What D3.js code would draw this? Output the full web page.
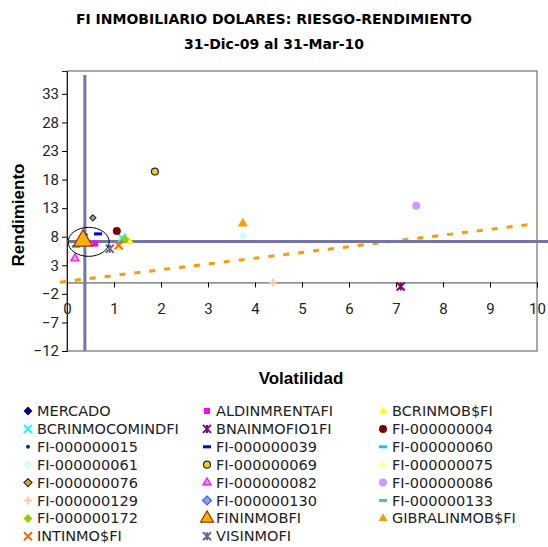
<!DOCTYPE html>
<html>
<head>
<meta charset="utf-8">
<script src="https://cdn.jsdelivr.net/npm/d3@7"></script>
<style>
  body { margin: 0; background: #fff; }
  text { font-family: "DejaVu Sans", Verdana, sans-serif; }
</style>
</head>
<body>
<div id="chart"></div>
<script>
// series data (volatilidad, rendimiento)
var names = ["MERCADO", "ALDINMRENTAFI", "BCRINMOB$FI", "BCRINMOCOMINDFI", "BNAINMOFIO1FI",
  "FI-000000004", "FI-000000015", "FI-000000039", "FI-000000060", "FI-000000061",
  "FI-000000069", "FI-000000075", "FI-000000076", "FI-000000082", "FI-000000086",
  "FI-000000129", "FI-000000130", "FI-000000133", "FI-000000172", "FININMOBFI",
  "GIBRALINMOB$FI", "INTINMO$FI", "VISINMOFI"];
var volat = [0.38, 0.60, 1.34, 1.17, 7.10, 1.06, 0.40, 0.66, 0.19, 3.74,
  1.87, 1.10, 0.55, 0.17, 7.43, 4.38, 0.35, 0.30, 1.23, 0.34, 3.74, 1.10, 0.91];
var rend = [7.2, 6.8, 7.1, 7.8, -0.7, 9.0, 8.3, 8.5, 6.3, 8.2,
  19.4, 5.9, 11.3, 4.2, 13.4, 0.0, 7.5, 7.0, 7.6, 7.3, 10.3, 6.5, 5.9];

// marker styles per series
var shapes = ["diamond", "square", "triangle", "x", "star", "circle", "dot", "dash", "dash", "diamond",
  "circle", "triangle", "diamond", "triangle", "circle", "plus", "diamond", "dash", "diamond", "triangle",
  "triangle", "x", "star"];
var fills = ["#000080", "#FF00FF", "#FFFF00", "#00FFFF", "#800080", "#800000", "#003366", "#0000FF", "#00CCFF", "#CCFFFF",
  "#FFCC00", "#FFFF99", "#FF9900", "#FF99FF", "#CC99FF", "#FFCC99", "#9999FF", "#33CCCC", "#99CC00", "#FFB000",
  "#FF9900", "#FF6600", "#666699"];
var strokes = [null, null, null, null, null, null, null, null, null, null,
  "#003366", null, "#003366", "#FF00FF", null, null, "#3366FF", null, null, "#993300",
  null, null, null];
var sizes = [9, 6, 8, 8, 8, 8, 3, 8, 8, 9,
  7, 8, 6, 8, 8, 8, 10, 8, 9, 19,
  10, 8, 8];

// crosshair (market) and trend line
var crossX = 0.38, crossY = 7.18;
var trendX = [-0.15, 10];
var trendY = [0.05, 10.3];

var xTicks = [0, 1, 2, 3, 4, 5, 6, 7, 8, 9, 10];
var yTicks = [-12, -7, -2, 3, 8, 13, 18, 23, 28, 33];

var width = 548, height = 547;
var svg = d3.select("#chart").append("svg")
  .attr("width", width).attr("height", height);

var x = d3.scaleLinear().domain([0, 10]).range([67, 537]);
var y = d3.scaleLinear().domain([-12, 37]).range([351, 71]);

// title
svg.append("text").attr("x", 274).attr("y", 24).attr("text-anchor", "middle")
  .style("font-size", "14px").style("font-weight", "bold")
  .text("FI INMOBILIARIO DOLARES: RIESGO-RENDIMIENTO");
svg.append("text").attr("x", 274).attr("y", 49).attr("text-anchor", "middle")
  .style("font-size", "14px").style("font-weight", "bold")
  .text("31-Dic-09 al 31-Mar-10");

// plot box
svg.append("rect").attr("x", x(0)).attr("y", y(37))
  .attr("width", x(10) - x(0)).attr("height", y(-12) - y(37))
  .attr("fill", "none").attr("stroke", "#555").attr("stroke-width", 1);

// y axis
var yAxis = svg.append("g").attr("transform", "translate(" + x(0) + ",0)")
  .call(d3.axisLeft(y).tickValues(yTicks).tickSize(5).tickFormat(d3.format("d")));
yAxis.selectAll("text").style("font-size", "15px").style("font-family", "Roboto, sans-serif").attr("fill", "#222");
yAxis.select(".domain").attr("stroke", "#222");

// x axis at y = 0
var xAxis = svg.append("g").attr("transform", "translate(0," + y(0) + ")")
  .call(d3.axisBottom(x).tickValues(xTicks).tickSize(5).tickFormat(d3.format("d")));
xAxis.selectAll("text").attr("y", 21).style("font-size", "15px").style("font-family", "Roboto, sans-serif").attr("fill", "#222");
xAxis.select(".domain").attr("stroke", "#444");

// axis titles
svg.append("text").attr("x", 301).attr("y", 384).attr("text-anchor", "middle")
  .style("font-size", "17px").style("font-weight", "bold").style("font-family", "Liberation Sans, Arial, sans-serif")
  .text("Volatilidad");
svg.append("text").attr("transform", "translate(24," + 215 + ") rotate(-90)")
  .attr("text-anchor", "middle")
  .style("font-size", "17px").style("font-weight", "bold").style("font-family", "Liberation Sans, Arial, sans-serif")
  .text("Rendimiento");

// trend line
svg.append("line")
  .attr("x1", x(trendX[0])).attr("y1", y(trendY[0]))
  .attr("x2", x(trendX[1])).attr("y2", y(trendY[1]))
  .attr("stroke", "#FF9900").attr("stroke-width", 3).attr("stroke-dasharray", "6,9");

// market crosshair
svg.append("line").attr("x1", x(crossX)).attr("x2", x(crossX))
  .attr("y1", y(-12)).attr("y2", y(36.3))
  .attr("stroke", "#7474A8").attr("stroke-width", 3);
svg.append("line").attr("x1", x(0)).attr("x2", width)
  .attr("y1", y(crossY)).attr("y2", y(crossY))
  .attr("stroke", "#7474A8").attr("stroke-width", 3);

function drawMarker(g, shape, size, fill, stroke) {
  var s = size, h = s / 2;
  if (shape === "x") {
    g.append("path").attr("d", "M" + (-h) + "," + (-h) + "L" + h + "," + h + "M" + (-h) + "," + h + "L" + h + "," + (-h))
      .attr("stroke", fill).attr("stroke-width", 2).attr("fill", "none");
  } else if (shape === "star") {
    g.append("path").attr("d", "M" + (-h) + "," + (-h) + "L" + h + "," + h + "M" + (-h) + "," + h + "L" + h + "," + (-h) + "M0," + (-h) + "L0," + h)
      .attr("stroke", fill).attr("stroke-width", 2).attr("fill", "none");
  } else if (shape === "plus") {
    g.append("path").attr("d", "M" + (-h) + ",0L" + h + ",0M0," + (-h) + "L0," + h)
      .attr("stroke", fill).attr("stroke-width", 2).attr("fill", "none");
  } else if (shape === "dash") {
    g.append("rect").attr("x", -h).attr("y", -1.5).attr("width", s).attr("height", 3).attr("fill", fill);
  } else if (shape === "dot") {
    g.append("circle").attr("r", h + 0.5).attr("fill", fill);
  } else if (shape === "diamond") {
    g.append("path").attr("d", "M0," + (-h) + "L" + h + ",0L0," + h + "L" + (-h) + ",0Z")
      .attr("fill", fill)
      .attr("stroke", stroke || "none").attr("stroke-width", stroke ? 1.2 : 0);
  } else {
    var t = { square: d3.symbolSquare, triangle: d3.symbolTriangle, circle: d3.symbolCircle }[shape];
    var area = shape === "circle" ? Math.PI * s * s / 4 : (shape === "triangle" ? s * s * 0.433 : s * s);
    g.append("path").attr("d", d3.symbol().type(t).size(area)())
      .attr("fill", fill)
      .attr("stroke", stroke || "none").attr("stroke-width", stroke ? 1.2 : 0);
  }
}

// points (draw big triangle last so it sits on top)
var order = d3.range(names.length).filter(function(i) { return names[i] !== "FININMOBFI"; });
order.push(names.indexOf("FININMOBFI"));
order.forEach(function(i) {
  var g = svg.append("g").attr("transform", "translate(" + x(volat[i]) + "," + y(rend[i]) + ")");
  drawMarker(g, shapes[i], sizes[i], fills[i], strokes[i]);
});

// annotation ellipse
svg.append("ellipse").attr("cx", x(0.46)).attr("cy", y(7.1))
  .attr("rx", 20.5).attr("ry", 14.5)
  .attr("fill", "none").attr("stroke", "#000").attr("stroke-width", 1);

// legend
var legX = [28, 207, 383], legY0 = 411, legDy = 17.9;
names.forEach(function(n, i) {
  var col = i % 3, row = Math.floor(i / 3);
  var g = svg.append("g").attr("transform", "translate(" + legX[col] + "," + (legY0 + row * legDy) + ")");
  var ls = Math.min(sizes[i], 9);
  if (names[i] === "FININMOBFI") ls = 13;
  if (names[i] === "FI-000000076") ls = 8;
  drawMarker(g, shapes[i], ls, fills[i], strokes[i]);
  g.append("text").attr("x", 9).attr("y", 5)
    .style("font-size", "14.5px").attr("fill", "#222")
    .text(n);
});
</script>
</body>
</html>
